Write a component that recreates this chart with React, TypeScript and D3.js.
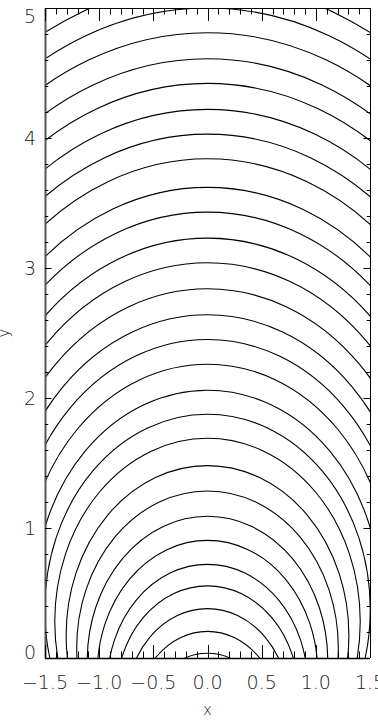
import React, { useEffect } from "react";
import * as d3 from "d3";

// Heights (y at x = 0) where each contour crosses the symmetry axis
const peakHeights = [
  0.036, 0.205, 0.38, 0.555, 0.72, 0.905, 1.09, 1.285, 1.48, 1.69, 1.875,
  2.06, 2.26, 2.45, 2.64, 2.84, 3.04, 3.23, 3.43, 3.62, 3.84, 4.03, 4.22,
  4.42, 4.61, 4.81, 5.0, 5.19,
];
// every contour passes through the source point (0, -sourceDepth)
const sourceDepth = 1.13;

const xDomain = [-1.5, 1.5];
const yDomain = [0, 5];
const xTickLabels = ["−1.5", "−1.0", "−0.5", "0.0", "0.5", "1.0", "1.5"];
const xTickValues = [-1.5, -1.0, -0.5, 0.0, 0.5, 1.0, 1.5];
const yTickValues = [0, 1, 2, 3, 4, 5];
const yTickLabels = ["0", "1", "2", "3", "4", "5"];
const xTitle = "x";
const yTitle = "y";

const W = 378;
const H = 720;
const left = 45;
const right = 370;
const top = 8;
const bottom = 658;

export default function App() {
  useEffect(() => {
    document.body.style.margin = "0";
  }, []);

  const x = d3.scaleLinear().domain(xDomain).range([left, right]);
  const y = d3.scaleLinear().domain(yDomain).range([bottom, top]);

  const xMinor = d3.range(-15, 16).map((i) => i / 10);
  const yMinor = d3.range(0, 26).map((i) => i / 5);
  const isMajorX = (v: number) => Math.abs(v * 2 - Math.round(v * 2)) < 1e-6;
  const isMajorY = (v: number) => Math.abs(v - Math.round(v)) < 1e-6;

  const xMajLen = 13, xMinLen = 6.5, yMajLen = 6.5, yMinLen = 3.3;
  const font = "'DejaVu Sans', sans-serif";

  return (
    <svg
      width={W}
      height={H}
      style={{ position: "absolute", left: 0, top: 0, background: "#fff" }}
    >
      <defs>
        <clipPath id="plotclip">
          <rect x={left} y={top} width={right - left} height={bottom - top} />
        </clipPath>
      </defs>
      <rect x={0} y={0} width={W} height={H} fill="#fff" />
      <g clipPath="url(#plotclip)" fill="none" stroke="#000" strokeWidth={1.1}>
        {peakHeights.map((h, i) => {
          const R = (h + sourceDepth) / 2;
          const cyData = R - sourceDepth;
          return (
            <ellipse
              key={i}
              cx={x(0)}
              cy={y(cyData)}
              rx={x(R) - x(0)}
              ry={y(0) - y(R)}
            />
          );
        })}
      </g>
      {/* axes box */}
      <g stroke="#000" strokeWidth={1} fill="none">
        <line x1={left} y1={top + 0.5} x2={right} y2={top + 0.5} />
        <line x1={left} y1={bottom + 0.5} x2={right} y2={bottom + 0.5} strokeWidth={1.5} />
        <line x1={left + 0.5} y1={top} x2={left + 0.5} y2={bottom} stroke="#555" strokeWidth={2} />
        <line x1={right + 0.5} y1={top} x2={right + 0.5} y2={bottom} />
        {xMinor.map((v, i) => {
          const len = isMajorX(v) ? xMajLen : xMinLen;
          const px = Math.round(x(v)) + 0.5;
          return (
            <g key={"xt" + i}>
              <line x1={px} y1={bottom} x2={px} y2={bottom - len} />
              <line x1={px} y1={top} x2={px} y2={top + len} />
            </g>
          );
        })}
        {yMinor.map((v, i) => {
          const len = isMajorY(v) ? yMajLen : yMinLen;
          const py = Math.round(y(v)) + 0.5;
          return (
            <g key={"yt" + i}>
              <line x1={left} y1={py} x2={left + len} y2={py} />
              <line x1={right} y1={py} x2={right - len} y2={py} />
            </g>
          );
        })}
      </g>
      <g fill="#222" fontFamily={font} fontSize={19} fontWeight={200}>
        {xTickValues.map((v, i) => (
          <text key={"xl" + i} x={x(v)} y={689} textAnchor="middle">
            {xTickLabels[i]}
          </text>
        ))}
        {yTickValues.map((v, i) => {
          const cy = Math.min(Math.max(y(v), top + 8.5), bottom - 6);
          return (
            <text key={"yl" + i} x={36} y={cy} dy="0.36em" textAnchor="end">
              {yTickLabels[i]}
            </text>
          );
        })}
        <text x={x(0)} y={715} textAnchor="middle" fontSize={15}>
          {xTitle}
        </text>
        <text
          transform={`translate(9, ${(top + bottom) / 2}) rotate(-90)`}
          textAnchor="middle"
          fontSize={15}
        >
          {yTitle}
        </text>
      </g>
    </svg>
  );
}
